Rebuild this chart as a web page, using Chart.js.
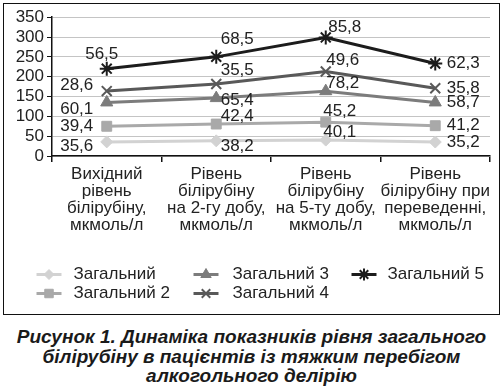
<!DOCTYPE html>
<html>
<head>
<meta charset="utf-8">
<script src="https://cdn.jsdelivr.net/npm/chart.js@4"></script>
<style>
  html, body { margin: 0; padding: 0; background: #fff; }
  body { width: 503px; height: 388px; position: relative; overflow: hidden; font-family: "Liberation Sans", Arial, sans-serif; }
  #frame { position: absolute; left: 3px; top: 3px; width: 495px; height: 310px; border: 1.5px solid #111; }
  #wrap { position: absolute; left: 0; top: 0; width: 495px; height: 310px; }
  #caption { position: absolute; left: 0; top: 327px; width: 503px; text-align: center;
             font: italic bold 19px/19.5px "Liberation Sans", Arial, sans-serif; color: #1a1a1a; }
</style>
</head>
<body>
<div id="frame"><div id="wrap"><canvas id="chart"></canvas></div></div>
<div id="caption">Рисунок 1. Динаміка показників рівня загального<br>білірубіну в пацієнтів із тяжким перебігом<br>алкогольного делірію</div>
<script>
//? DATA
const categories = [
    ['Вихідний', 'рівень', 'білірубіну,', 'мкмоль/л'],
    ['Рівень', 'білірубіну', 'на 2-гу добу,', 'мкмоль/л'],
    ['Рівень', 'білірубіну', 'на 5-ту добу,', 'мкмоль/л'],
    ['Рівень', 'білірубіну при', 'переведенні,', 'мкмоль/л']
];
const seriesNames = ['Загальний', 'Загальний 2', 'Загальний 3', 'Загальний 4', 'Загальний 5'];
const series1 = [35.6, 38.2, 40.1, 35.2];
const series2 = [39.4, 42.4, 45.2, 41.2];
const series3 = [60.1, 65.4, 78.2, 58.7];
const series4 = [28.6, 35.5, 49.6, 35.8];
const series5 = [56.5, 68.5, 85.8, 62.3];
const yTicks = [0, 50, 100, 150, 200, 250, 300, 350];

//? STYLES
const seriesStyles = [
    { color: '#d2d2d2', pointStyle: 'rectRot', radius: 6, pw: 1 },
    { color: '#a9a9a9', pointStyle: 'rect', radius: 7, pw: 1 },
    { color: '#7c7c7c', pointStyle: 'triangle', radius: 7, pw: 1 },
    { color: '#595959', pointStyle: 'crossRot', radius: 7, pw: 2 },
    { color: '#1c1c1c', pointStyle: 'star', radius: 7, pw: 2 }
];
// label offsets from the point (dx, dy) per series / category
const labelOffsets = [
    [[-30, 4], [21, 5], [14, -8], [28, 0]],
    [[-30, 0], [21, -8], [14, -11], [28, 0]],
    [[-30, 7], [21, 2], [17, -8], [28, 0]],
    [[-30, -6], [21, -14], [17, -11], [28, 0]],
    [[-5, -14], [21, -18], [19, -10], [28, 0]]
];
const fontFamily = '"Liberation Sans", Arial, sans-serif';

const allSeries = [series1, series2, series3, series4, series5];

const datasets = allSeries.map((vals, i) => ({
    label: seriesNames[i],
    data: vals,
    borderColor: seriesStyles[i].color,
    backgroundColor: seriesStyles[i].color,
    pointBorderColor: seriesStyles[i].color,
    pointBackgroundColor: seriesStyles[i].color,
    pointStyle: seriesStyles[i].pointStyle,
    pointRadius: seriesStyles[i].radius,
    pointBorderWidth: seriesStyles[i].pw,
    borderWidth: 3,
    tension: 0,
    fill: false
}));

//? PLUGINS
const valueLabels = {
    id: 'valueLabels',
    afterDatasetsDraw(chart) {
        const ctx = chart.ctx;
        ctx.save();
        ctx.font = '17px ' + fontFamily;
        ctx.fillStyle = '#222';
        ctx.textAlign = 'center';
        ctx.textBaseline = 'middle';
        chart.data.datasets.forEach((ds, i) => {
            const meta = chart.getDatasetMeta(i);
            meta.data.forEach((pt, j) => {
                const off = labelOffsets[i][j];
                const txt = ds.data[j].toFixed(1).replace('.', ',');
                ctx.fillText(txt, pt.x + off[0], pt.y + off[1]);
            });
        });
        ctx.restore();
    }
};

// legend laid out column-wise like the original: [iconX, textX, y]
const legendSlots = [[32.5, 69.5, 270.5], [32.5, 69.5, 289.5], [189.5, 228.5, 270.5], [189.5, 228.5, 289.5], [347.5, 383.5, 270.5]];
const customLegend = {
    id: 'customLegend',
    afterDraw(chart) {
        const ctx = chart.ctx;
        ctx.save();
        seriesStyles.forEach((st, i) => {
            const [x, tx, y] = legendSlots[i];
            ctx.strokeStyle = st.color;
            ctx.fillStyle = st.color;
            ctx.lineWidth = 3;
            ctx.beginPath();
            ctx.moveTo(x, y);
            ctx.lineTo(x + 25, y);
            ctx.stroke();
            ctx.lineWidth = st.pw;
            Chart.helpers.drawPoint(ctx, { pointStyle: st.pointStyle, radius: st.radius - 1, rotation: 0, borderWidth: st.pw }, x + 12.5, y);
            ctx.fillStyle = '#222';
            ctx.font = '17px ' + fontFamily;
            ctx.textBaseline = 'middle';
            ctx.textAlign = 'left';
            ctx.fillText(seriesNames[i], tx, y);
        });
        ctx.restore();
    }
};

new Chart(document.getElementById('chart'), {
    type: 'line',
    data: { labels: categories, datasets: datasets },
    options: {
        responsive: true,
        maintainAspectRatio: false,
        animation: false,
        layout: { padding: { top: 13, right: 9, left: 0, bottom: 0 } },
        plugins: { legend: { display: false }, tooltip: { enabled: false } },
        scales: {
            x: {
                offset: true,
                grid: { display: true, drawOnChartArea: false, offset: true, tickLength: 6, tickColor: '#111', lineWidth: 1.5 },
                border: { color: '#111', width: 1.5 },
                ticks: { color: '#222', font: { family: fontFamily, size: 17, lineHeight: 1.0 }, maxRotation: 0, autoSkip: false, padding: 4 },
                afterFit(scale) { scale.height = 158; }
            },
            y: {
                stacked: true,
                min: 0, max: 350,
                afterBuildTicks(scale) { scale.ticks = yTicks.map(v => ({ value: v })); },
                grid: { color: '#c4c4c4', lineWidth: 1, tickLength: 5, tickColor: '#111' },
                border: { color: '#111', width: 1.5 },
                ticks: { color: '#222', font: { family: fontFamily, size: 17 }, padding: 3, autoSkip: false },
                afterFit(scale) { scale.width = 48; }
            }
        }
    },
    plugins: [valueLabels, customLegend]
});
</script>
</body>
</html>
